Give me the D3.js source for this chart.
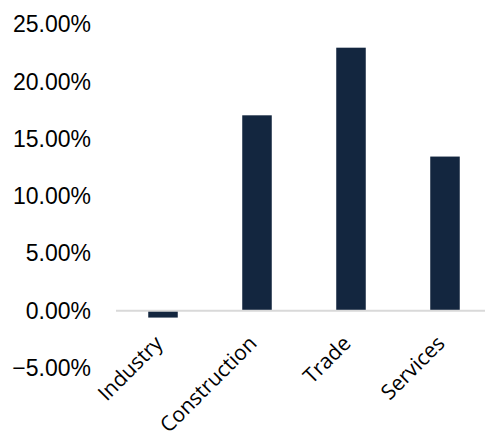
<!DOCTYPE html>
<html><head><meta charset="utf-8">
<script src="https://cdn.jsdelivr.net/npm/d3@7"></script>
<style>body{margin:0;background:#fff}</style>
</head><body>
<svg id="c" width="485" height="437"></svg>
<script>
const categories = ["Industry", "Construction", "Trade", "Services"];
const values = [-0.6, 17.05, 22.95, 13.45];
const yTicks = [-5, 0, 5, 10, 15, 20, 25];

const svg = d3.select("#c");
const x = d3.scaleBand().domain(categories).range([116, 492]).paddingInner(0.686).paddingOuter(0.343);
const y = d3.scaleLinear().domain([-5, 25]).range([368, 24.2]);

// y labels
svg.append("g").selectAll("text").data(yTicks).join("text")
  .attr("x", 91).attr("y", d => y(d)).attr("dy", "0.35em")
  .attr("text-anchor", "end")
  .attr("font-family", "Liberation Sans, Arial, sans-serif")
  .attr("font-size", 23).attr("fill", "#000")
  .text(d => d3.format(".2f")(d) + "%");

// bars
svg.append("g").selectAll("rect").data(values).join("rect")
  .attr("x", (d, i) => x(categories[i]))
  .attr("width", x.bandwidth())
  .attr("y", d => y(Math.max(0, d)))
  .attr("height", d => Math.abs(y(d) - y(0)))
  .attr("fill", "#13263f");

// zero line
svg.append("line").attr("x1", 116).attr("x2", 492)
  .attr("y1", y(0)).attr("y2", y(0))
  .attr("stroke", "#d9d9d9").attr("stroke-width", 2);

// category labels
svg.append("g").selectAll("text").data(categories).join("text")
  .attr("transform", d => `translate(${x(d) + x.bandwidth() / 2 + 1},${y(0) + 34}) rotate(-45)`)
  .attr("text-anchor", "end")
  .attr("font-family", "Open Sans, sans-serif")
  .attr("font-size", 21).attr("fill", "#000")
  .text(d => d);
</script>
</body></html>
